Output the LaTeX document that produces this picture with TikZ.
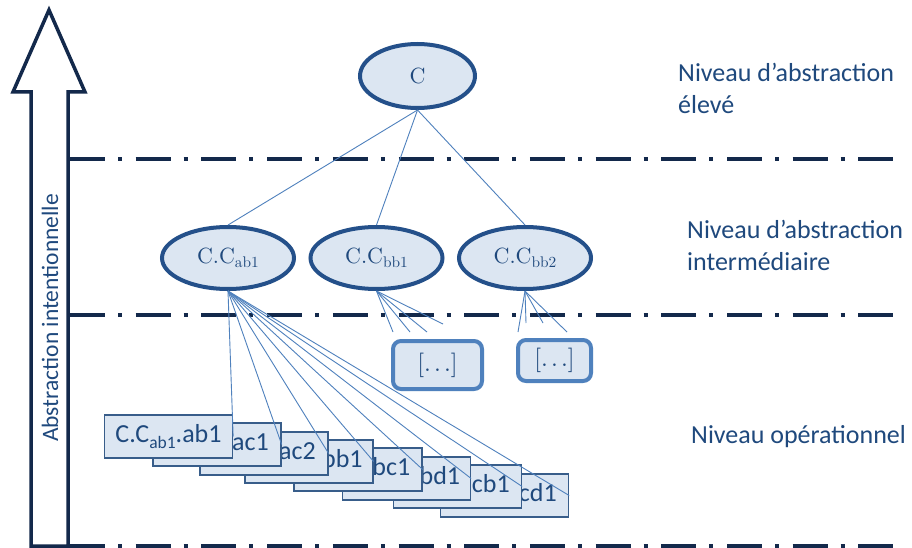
\documentclass[tikz,border=0pt]{standalone}
\usepackage{fontspec}
\newfontfamily\carl{Carlito}
\newfontfamily\lmten{lmroman10-regular.otf}
\usetikzlibrary{shapes.geometric}
\definecolor{navy}{HTML}{13294B}
\definecolor{txtblue}{HTML}{1F497D}
\definecolor{fillblue}{HTML}{DCE6F2}
\definecolor{edgeblue}{HTML}{24508A}
\definecolor{linkblue}{HTML}{4F81BD}
\definecolor{rectedge}{HTML}{385D8A}
\newcommand{\sbs}[1]{\raisebox{-0.22em}{\fontsize{17.5}{17.5}\selectfont #1}}
\newcommand{\lsb}[1]{\raisebox{-0.2em}{\fontsize{15.4}{15.4}\selectfont #1}}
\newcommand{\wdots}{.\kern0.13em.\kern0.13em.}
\begin{document}
\begin{tikzpicture}[x=1pt,y=-1pt,
  levelnode/.style={ellipse, draw=edgeblue, line width=4pt, fill=fillblue, text=txtblue,
    font=\lmten\fontsize{22}{22}\selectfont, inner sep=0pt},
  dotsbox/.style={rectangle, rounded corners=8pt, draw=linkblue, line width=4pt, fill=fillblue,
    text=txtblue, font=\lmten\fontsize{24.5}{24.5}\selectfont, inner sep=0pt},
  opbox/.style={rectangle, draw=rectedge, line width=1.3pt, fill=fillblue, text=txtblue,
    font=\carl\fontsize{26}{26}\selectfont, minimum width=128pt, minimum height=43pt, inner sep=0pt},
  link/.style={draw=linkblue, line width=0.9pt},
  levelline/.style={draw=navy, line width=4pt, dash pattern=on 35pt off 13pt on 4pt off 13.7pt},
  lab/.style={text=txtblue, font=\carl\fontsize{26}{32}\selectfont, align=left, anchor=north west, inner sep=0pt}
]
\fill[white] (0,0) rectangle (912,548);
\useasboundingbox (0,0) rectangle (912,548);

% level separators
\draw[levelline] (70,159) -- (893,159);
\draw[levelline] (70,315) -- (893,315);
\draw[levelline] (70,546) -- (893,546);

% big arrow
\draw[navy, line width=3.5pt, miter limit=10] (31,546) -- (31,92) -- (13,92) -- (49,10) -- (85,92) -- (68,92) -- (68,546) -- cycle;
\node[rotate=90, text=txtblue, font=\carl\fontsize{23.5}{23.5}\selectfont, inner sep=0pt] (vt) at (50,318) {Abstraction intentionnelle};

% level labels
\node[lab] (l1) at (678,63) {Niveau d’abstraction\\élevé};
\node[lab] (l2) at (687,220) {Niveau d’abstraction\\intermédiaire};
\node[lab] (l3) at (691,425) {Niveau opérationnel};

% ellipses
\node[levelnode, minimum width=115pt, minimum height=64pt] (C) at (417.5,76) {C};
\node[levelnode, minimum width=132pt, minimum height=62pt] (Cab1) at (228,258) {C.C\lsb{ab1}};
\node[levelnode, minimum width=132pt, minimum height=62pt] (Cbb1) at (376.5,258) {C.C\lsb{bb1}};
\node[levelnode, minimum width=132pt, minimum height=62pt] (Cbb2) at (525,258) {C.C\lsb{bb2}};

% [...] boxes
\node[dotsbox, minimum width=89pt, minimum height=48pt] (d1) at (437.5,365) {[\wdots]};
\node[dotsbox, minimum width=73pt, minimum height=41pt] (d2) at (554.5,360.5) {[\wdots]};

% operational boxes (back to front)
\node[opbox] (r8) at (504.5,495.5) {C.C\sbs{ab1}.cd1};
\node[opbox] (r7) at (457.5,486.5) {C.C\sbs{ab1}.cb1};
\node[opbox] (r6) at (406.5,478.5) {C.C\sbs{ab1}.bd1};
\node[opbox] (r5) at (358,469.5) {C.C\sbs{ab1}.bc1};
\node[opbox] (r4) at (309,461.5) {C.C\sbs{ab1}.bb1};
\node[opbox] (r3) at (264,453.5) {C.C\sbs{ab1}.ac2};
\node[opbox] (r2) at (217,444.5) {C.C\sbs{ab1}.ac1};
\node[opbox] (r1) at (168.5,436.5) {C.C\sbs{ab1}.ab1};

% connectors
\draw[link] (C.south) -- (Cab1.north);
\draw[link] (C.south) -- (Cbb1.north);
\draw[link] (C.south) -- (Cbb2.north);
\foreach \i in {1,...,8} \draw[link] (Cab1.south) -- (r\i.east);

\coordinate (p1) at (393,332);
\coordinate (p2) at (410,332);
\coordinate (p3) at (427,332);
\coordinate (p4) at (443,324);
\coordinate (q1) at (518,332);
\coordinate (q2) at (526,323);
\coordinate (q3) at (543,323);
\coordinate (q4) at (567,332);
\foreach \p in {p1,p2,p3,p4} \draw[link] (Cbb1.south) -- (\p);
\foreach \q in {q1,q2,q3,q4} \draw[link] (Cbb2.south) -- (\q);
\end{tikzpicture}
\end{document}
